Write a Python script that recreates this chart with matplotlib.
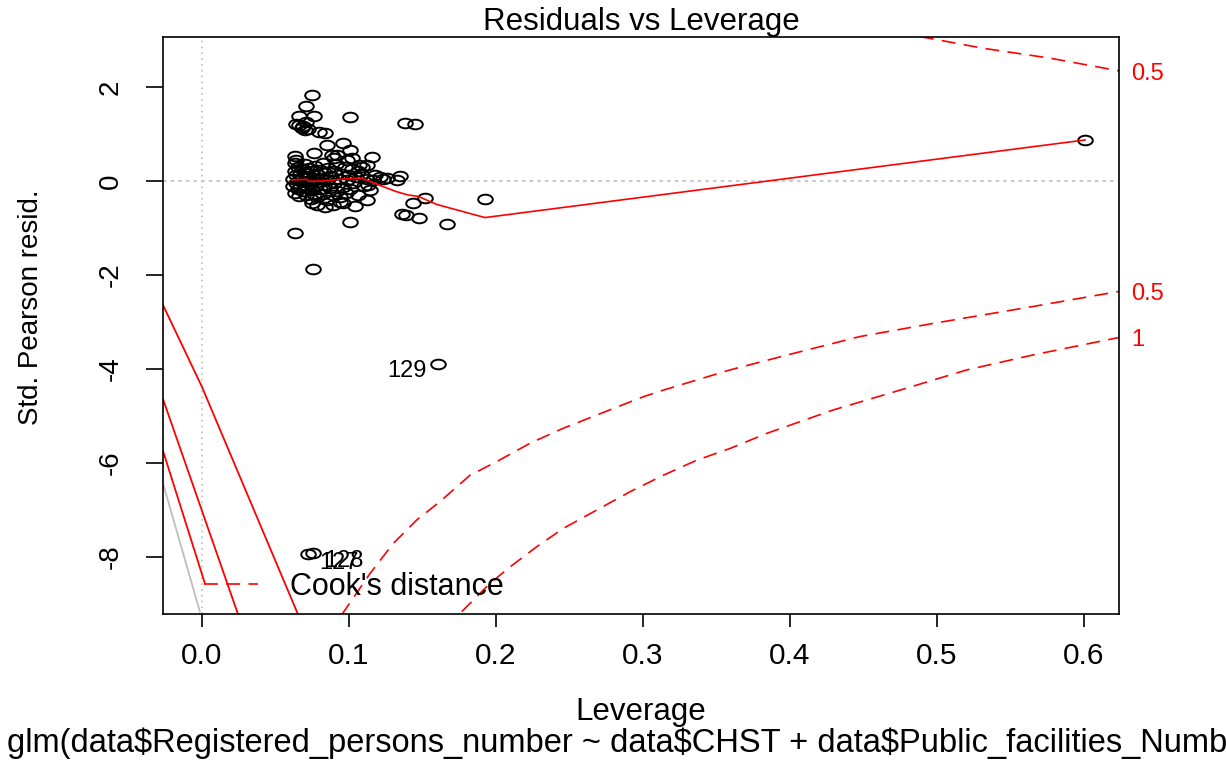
import matplotlib.pyplot as plt
import numpy as np
from matplotlib.lines import Line2D
from matplotlib.path import Path
from matplotlib.transforms import Affine2D

plt.rcParams['font.family'] = ['Liberation Sans', 'DejaVu Sans']
plt.rcParams['lines.scale_dashes'] = False

leverage = [
    # upper group
    0.0746, 0.0705, 0.0662, 0.0762, 0.0640, 0.0660, 0.0680, 0.0700, 0.0690, 0.0720,
    0.0705, 0.0798, 0.0840, 0.1009, 0.1380, 0.1450,
    # middle group
    0.0848, 0.0961, 0.0760, 0.0882, 0.0916, 0.1007, 0.1018, 0.1154, 0.1120, 0.1086,
    0.0633, 0.0630, 0.0640, 0.0900, 0.0985, 0.1070, 0.1060,
    # small cluster right of the core
    0.1211, 0.1256, 0.1347, 0.1324, 0.1234, 0.1163, 0.1130,
    # below the core
    0.1120, 0.1040, 0.0961, 0.0940, 0.0837, 0.0893, 0.0746, 0.0780,
    # dense core
    0.062, 0.062, 0.063, 0.063, 0.064, 0.064, 0.065, 0.065, 0.066, 0.066,
    0.067, 0.067, 0.068, 0.068, 0.069, 0.069, 0.070, 0.070, 0.071, 0.071,
    0.072, 0.072, 0.073, 0.073, 0.074, 0.074, 0.075, 0.075, 0.076, 0.076,
    0.077, 0.077, 0.078, 0.078, 0.079, 0.080, 0.080, 0.081, 0.082, 0.082,
    0.083, 0.084, 0.085, 0.085, 0.086, 0.087, 0.088, 0.089, 0.090, 0.090,
    0.091, 0.092, 0.093, 0.094, 0.095, 0.096, 0.097, 0.098, 0.099, 0.100,
    0.101, 0.102, 0.103, 0.105, 0.106, 0.108, 0.110, 0.112, 0.114, 0.118,
    # scattered low points
    0.1517, 0.1925, 0.1438, 0.1358, 0.1390, 0.1476, 0.1664, 0.1007, 0.0633, 0.0757,
    # far high-leverage point
    0.6007,
    # labelled: 129, 128, 127
    0.1605, 0.0755, 0.0721,
]
std_resid = [
    1.83, 1.60, 1.39, 1.39, 1.22, 1.18, 1.12, 1.08, 1.16, 1.10,
    1.25, 1.04, 1.01, 1.36, 1.23, 1.21,
    0.77, 0.80, 0.60, 0.55, 0.55, 0.66, 0.48, 0.50, 0.34, 0.30,
    0.53, 0.38, 0.45, 0.48, 0.45, 0.33, 0.20,
    0.09, 0.07, 0.11, 0.02, 0.04, 0.02, -0.08,
    -0.40, -0.53, -0.48, -0.45, -0.55, -0.51, -0.48, -0.51,
    0.05, -0.10, 0.20, -0.25, 0.12, -0.05, 0.30, -0.18, 0.02, -0.32,
    0.15, -0.12, 0.25, -0.02, 0.08, -0.22, 0.35, -0.08, 0.18, -0.30,
    0.00, -0.15, 0.28, 0.10, -0.05, -0.38, 0.20, -0.20, 0.05, -0.28,
    0.32, -0.10, 0.14, -0.35, -0.02, 0.24, -0.18, 0.06, -0.28, 0.38,
    -0.08, 0.16, -0.40, 0.02, 0.28, -0.15, 0.10, -0.30, 0.22, -0.05,
    0.36, -0.22, 0.05, -0.35, 0.15, -0.12, 0.30, -0.25, 0.02, 0.12,
    -0.18, 0.25, -0.05, 0.08, -0.30, 0.15, -0.10, 0.05, -0.20, 0.12,
    -0.37, -0.38, -0.47, -0.70, -0.72, -0.79, -0.92, -0.87, -1.11, -1.87,
    0.87,
    -3.89, -7.91, -7.94,
]
label_names = ['129', '128', '127']

# red smoother through the points
smooth_lev = [0.0610, 0.0712, 0.0728, 0.0825, 0.0961, 0.1086, 0.1143, 0.1222,
              0.1324, 0.1404, 0.1472, 0.1596, 0.1925, 0.6007]
smooth_res = [0.02, 0.035, -0.01, 0.00, 0.04, 0.06, -0.01, -0.11,
              -0.23, -0.30, -0.33, -0.50, -0.78, 0.87]

# Cook's distance contours
cook05_hi_lev = [0.4884, 0.5315, 0.5769, 0.6238]
cook05_hi_res = [3.07, 2.82, 2.61, 2.34]
cook05_lo_lev = [0.0950, 0.1143, 0.1301, 0.1461, 0.1619, 0.1823, 0.2005, 0.2231, 0.2458,
                 0.2685, 0.3002, 0.3138, 0.3592, 0.4022, 0.4476, 0.4975, 0.5655, 0.6238]
cook05_lo_res = [-9.23, -8.35, -7.71, -7.21, -6.82, -6.26, -5.97, -5.58, -5.26,
                 -4.98, -4.59, -4.45, -4.02, -3.67, -3.31, -3.03, -2.67, -2.35]
cook1_lev = [0.1767, 0.1959, 0.2095, 0.2277, 0.2458, 0.2685, 0.2912, 0.3138,
             0.3365, 0.3592, 0.3841, 0.4295, 0.4748, 0.5202, 0.5655, 0.6238]
cook1_res = [-9.16, -8.56, -8.21, -7.78, -7.39, -7.00, -6.61, -6.26,
             -5.94, -5.69, -5.37, -4.87, -4.45, -4.02, -3.70, -3.33]
cook_labels = ['0.5', '0.5', '1']

# stray lines in the lower left corner
red_lines = [
    ([-0.0265, 0.0, 0.0655], [-2.64, -4.38, -9.23]),
    ([-0.0265, 0.0247], [-4.64, -9.23]),
    ([-0.0265, 0.0020], [-5.74, -8.56]),
]
gray_line = ([-0.0265, -0.0014], [-6.43, -9.16])

subtitle = 'glm(data$Registered_persons_number ~ data$CHST + data$Public_facilities_Number)'

fig = plt.figure(figsize=(12.26, 7.63), dpi=100)
ax = fig.add_axes([0.13295, 0.19528, 0.77977, 0.75623])
ax.set_xlim(-0.0265, 0.6238)
ax.set_ylim(-9.21, 3.06)

ax.axhline(0, color='#BEBEBE', lw=1.2, dashes=(2.5, 3))
ax.axvline(0, color='#BEBEBE', lw=1.2, dashes=(1.2, 3))

for xs, ys in red_lines:
    ax.plot(xs, ys, color='red', lw=1.3)
ax.plot(gray_line[0], gray_line[1], color='#BEBEBE', lw=1.3)

# wide open circle, as in the stretched original
ell = Path.unit_circle().transformed(Affine2D().scale(1, 0.66))
ax.plot(leverage, std_resid, ls='none', marker=ell, ms=10.5,
        mfc='none', mec='black', mew=1.4)

ax.plot(smooth_lev, smooth_res, color='red', lw=1.2)

dash = (10, 6)
ax.plot(cook05_hi_lev, cook05_hi_res, color='red', lw=1.2, dashes=dash)
ax.plot(cook05_lo_lev, cook05_lo_res, color='red', lw=1.2, dashes=dash)
ax.plot(cook1_lev, cook1_res, color='red', lw=1.2, dashes=dash)

ends = [cook05_hi_res[-1], cook05_lo_res[-1], cook1_res[-1]]
for txt, yv in zip(cook_labels, ends):
    ax.annotate(txt, (0.6238, yv), xytext=(9, -2), textcoords='offset points',
                color='red', fontsize=17, va='center', ha='left',
                annotation_clip=False)

# point labels
for i, name in enumerate(label_names):
    x = leverage[len(leverage) - 3 + i]
    y = std_resid[len(std_resid) - 3 + i]
    if name == '129':
        ax.annotate(name, (x, y), xytext=(-8, -5), textcoords='offset points',
                    ha='right', va='center', fontsize=17)
    else:
        ax.annotate(name, (x, y), xytext=(8, -6), textcoords='offset points',
                    ha='left', va='center', fontsize=17)

handle = Line2D([], [], color='red', lw=1.2, dashes=dash)
ax.legend([handle], ["Cook's distance"], loc='center left',
          bbox_to_anchor=(0.0429, 0.047), frameon=False, fontsize=22,
          handlelength=1.76, handletextpad=1.05, borderpad=0, borderaxespad=0)

ax.set_xticks([0.0, 0.1, 0.2, 0.3, 0.4, 0.5, 0.6])
ax.set_xticklabels(['0.0', '0.1', '0.2', '0.3', '0.4', '0.5', '0.6'])
ax.set_yticks([-8, -6, -4, -2, 0, 2])
ax.set_yticklabels(['-8', '-6', '-4', '-2', '0', '2'])
ax.tick_params(axis='x', length=9.5, width=1.2, pad=11, labelsize=21.5)
ax.tick_params(axis='y', length=12.5, width=1.2, pad=16, labelsize=20)
for lab in ax.get_yticklabels():
    lab.set_rotation(90)
    lab.set_va('center')
for sp in ax.spines.values():
    sp.set_linewidth(1.2)

ax.set_title('Residuals vs Leverage', fontsize=22.5, pad=5)
ax.set_xlabel('Leverage', fontsize=22.5, labelpad=19)
ax.set_ylabel('Std. Pearson resid.', fontsize=20)
ax.yaxis.set_label_coords(-0.1245, 0.532)
fig.text(7 / 1226, 11 / 763, subtitle, ha='left', va='baseline',
         fontsize=23.5, parse_math=False)

fig.savefig('out.png', dpi=100)
